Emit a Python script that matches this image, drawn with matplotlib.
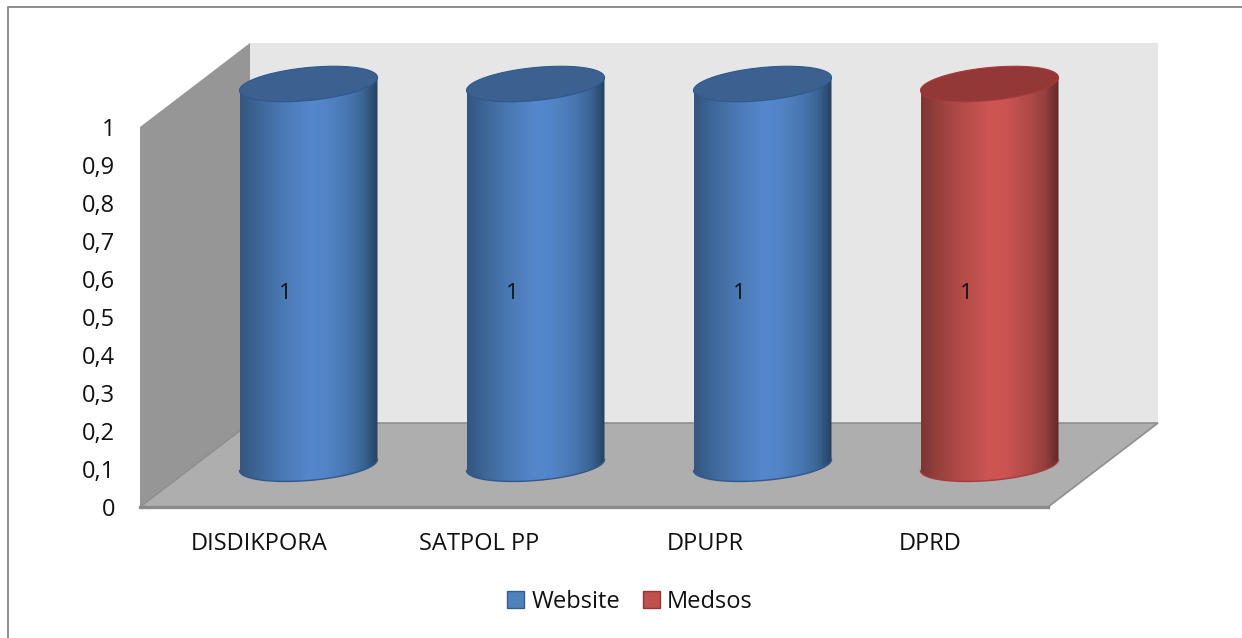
#!/usr/bin/env python
# -*- coding: utf-8 -*-

import numpy as np
import matplotlib
matplotlib.use("Agg")
import matplotlib.pyplot as plt
from matplotlib.colors import LinearSegmentedColormap
from matplotlib.patches import Patch, Polygon

plt.rcParams['font.family'] = ['Open Sans', 'DejaVu Sans']

# The chart's values.
categories = ["DISDIKPORA", "SATPOL PP", "DPUPR", "DPRD"]
series_names = ["Website", "Website", "Website", "Medsos"]
values = [1, 1, 1, 1]
y_ticks = [0, 0.1, 0.2, 0.3, 0.4, 0.5, 0.6, 0.7, 0.8, 0.9, 1]

W, H = 1242, 638
fig = plt.figure(figsize=(W / 100, H / 100), dpi=100, facecolor='w')

# Front plane of the 3D box, from pixel positions in the reference.
left, right, y0, y1 = 140, 1048, 507, 127
ax = fig.add_axes([left / W, 1 - y0 / H, (right - left) / W, (y0 - y1) / H])
ax.set_xlim(-0.5, 3.5)
ax.set_ylim(0, 1)
ax.patch.set_visible(False)
for s in ax.spines.values():
    s.set_visible(False)

# Pixel sizes in data units.
px = 4.0 / (right - left)
py = 1.0 / (y0 - y1)
depth_x, depth_y = 110 * px, 84 * py

# Outer frame of the chart: only the top and left lines are in the picture.
fig.add_artist(plt.Line2D([8 / W, 8 / W, 1], [0, 1 - 6.5 / H, 1 - 6.5 / H], transform=fig.transFigure,
                          color='#8c8c8c', linewidth=1.4))

# Walls and floor.
x_a, x_b = -0.5, 3.5
ax.add_patch(Polygon([(x_a + depth_x, depth_y), (x_b + depth_x, depth_y),
                      (x_b + depth_x, 1 + depth_y), (x_a + depth_x, 1 + depth_y)],
                     closed=True, facecolor='#e6e6e6', edgecolor='none', clip_on=False, zorder=1))
ax.add_patch(Polygon([(x_a, 0), (x_a + depth_x, depth_y), (x_a + depth_x, 1 + depth_y), (x_a, 1)],
                     closed=True, facecolor='#969696', edgecolor='none', clip_on=False, zorder=1))
ax.add_patch(Polygon([(x_a, 0), (x_b, 0), (x_b + depth_x, depth_y), (x_a + depth_x, depth_y)],
                     closed=True, facecolor='#aeaeae', edgecolor='#8f8f8f', linewidth=1.2,
                     clip_on=False, zorder=2))
ax.plot([x_a, x_b], [0, 0], color='#8a8a8a', linewidth=2.4, clip_on=False, zorder=3)

# Colours of each series: side gradient, top, rim.
blue_cmap = LinearSegmentedColormap.from_list(
    "blue", [(0, '#34557f'), (0.12, '#3d6595'), (0.3, '#4a78b3'), (0.5, '#5487cb'),
             (0.62, '#5285c8'), (0.78, '#4877b1'), (0.9, '#3a6494'), (1, '#26405f')], N=512)
red_cmap = LinearSegmentedColormap.from_list(
    "red", [(0, '#7c3634'), (0.12, '#96403d'), (0.3, '#b44c49'), (0.5, '#cd5653'),
            (0.62, '#cb5451'), (0.78, '#b04a47'), (0.9, '#934040'), (1, '#5f2827')], N=512)
styles = {"Website": (blue_cmap, '#3a6190', '#30588c'),
          "Medsos": (red_cmap, '#933836', '#a83a38')}

half_w = 69 * px
tilt_top = 6.5 * py
tilt_bot = 5.5 * py
rise_top = 16.5 * py
rise_bot = 15.5 * py
t = np.linspace(0, 2 * np.pi, 181)
gradient = np.linspace(0, 1, 512).reshape(1, -1)

for i, (name, val) in enumerate(zip(series_names, values)):
    cmap, top_color, rim_color = styles[name]
    cx = i + depth_x / 2
    base = depth_y / 2
    top = val + depth_y / 2 + 1 * py

    # Outline of the body: lower half of the base, then up to the top.
    t_low = np.linspace(0, np.pi, 91)
    ex = half_w * np.cos(t_low)
    base_y = base - rise_bot * np.sin(t_low) + tilt_bot * np.cos(t_low)
    body = np.vstack([np.column_stack([cx + ex, base_y]),
                      [[cx - half_w, top - tilt_top], [cx + half_w, top + tilt_top]]])
    clip = Polygon(body, closed=True, transform=ax.transData, facecolor='none', edgecolor='none')
    im = ax.imshow(gradient, cmap=cmap, aspect='auto', zorder=4,
                   extent=(cx - half_w, cx + half_w, base - 30 * py, top + 30 * py))
    im.set_clip_path(clip)
    # The image would otherwise stop at the axes box.
    im.set_clip_box(fig.bbox)

    # Rim along the bottom of the cylinder.
    ax.plot(cx + ex, base_y, color=rim_color, linewidth=1.0, clip_on=False, zorder=5)

    # Top ellipse.
    ax.add_patch(Polygon(np.column_stack([cx + half_w * np.cos(t),
                                          top + rise_top * np.sin(t) + tilt_top * np.cos(t)]),
                         closed=True, facecolor=top_color, edgecolor=rim_color, linewidth=0.8,
                         clip_on=False, zorder=6))

    # Data label.
    ax.text(i + 32 * px, val / 2 + 23.5 * py, "%d" % val, ha='center', va='center',
            fontsize=16, color='#111111', zorder=7)

ax.set_xlim(-0.5, 3.5)
ax.set_ylim(0, 1)

# Axis ticks and labels; the category labels sit a little off centre in the reference.
label_shift = [5.5, -1, -2, -4.5]
ax.set_xticks([i + label_shift[i] * px for i in range(len(categories))])
ax.set_xticklabels(categories, fontsize=17, color='#111111')
ax.set_yticks(y_ticks)
ax.set_yticklabels([("%g" % v).replace('.', ',') for v in y_ticks], fontsize=17, color='#111111')
ax.tick_params(axis='x', length=0, pad=18)
ax.tick_params(axis='y', length=0, pad=18)

# Legend.
handles = [Patch(facecolor='#4f81bd', edgecolor='#385d8a', label="Website"),
           Patch(facecolor='#c0504d', edgecolor='#8c3836', label="Medsos")]
fig.legend(handles=handles, loc='center', bbox_to_anchor=(630 / W, 1 - 602 / H), ncol=2,
           frameon=False, fontsize=17, handlelength=0.72, handleheight=0.72,
           handletextpad=0.3, columnspacing=0.95, labelcolor='#111111')

fig.savefig("out.png", dpi=100)
